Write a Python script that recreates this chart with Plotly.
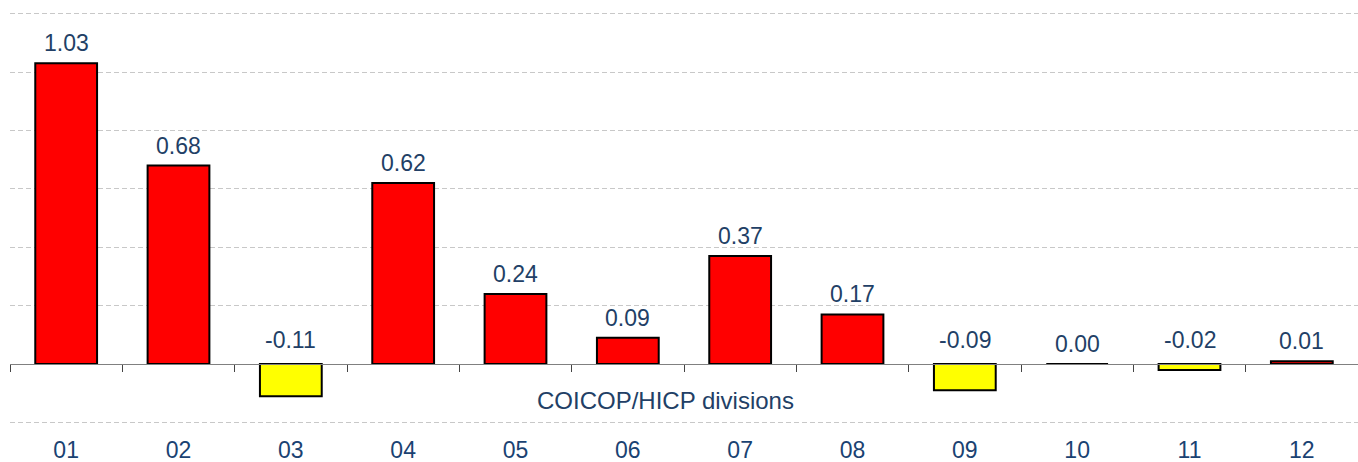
import plotly.graph_objects as go

categories = ["01", "02", "03", "04", "05", "06", "07", "08", "09", "10", "11", "12"]
values = [1.03, 0.68, -0.11, 0.62, 0.24, 0.09, 0.37, 0.17, -0.09, 0.00, -0.02, 0.01]
axis_title = "COICOP/HICP divisions"

POS_COLOR = "#FF0000"
NEG_COLOR = "#FFFF00"
TEXT_COLOR = "#223F66"
TICK_COLOR = "#1A4272"
FONT = "Liberation Sans, Arial, sans-serif"

y_min, y_max = -0.26, 1.24
zero_frac = (0 - y_min) / (y_max - y_min)

colors = [POS_COLOR if v >= 0 else NEG_COLOR for v in values]

fig = go.Figure()
fig.add_trace(go.Bar(
    x=categories,
    y=values,
    width=0.55,
    marker=dict(color=colors, line=dict(color="#000000", width=2)),
    hoverinfo="skip",
))

annotations = []
for i, v in enumerate(values):
    annotations.append(dict(
        x=i, y=max(v, 0), xref="x", yref="y",
        text=f"{v:.2f}", showarrow=False,
        yanchor="middle", yshift=20 if v >= 0 else 24,
        font=dict(family=FONT, size=23, color=TEXT_COLOR),
    ))
annotations.append(dict(
    x=0.4866, xref="paper", y=-0.123, yref="y",
    text=axis_title, showarrow=False, yanchor="middle", xanchor="center",
    font=dict(family=FONT, size=24, color=TEXT_COLOR),
))

fig.update_layout(
    width=1358, height=462,
    margin=dict(l=10, r=0, t=2, b=22),
    paper_bgcolor="white", plot_bgcolor="white",
    showlegend=False,
    annotations=annotations,
    xaxis=dict(
        type="category",
        range=[-0.5, len(categories) - 0.5],
        anchor="free", position=zero_frac,
        showline=True, linecolor="#808080", linewidth=1,
        ticks="outside", tickson="boundaries", ticklen=7, tickcolor="#444444", tickwidth=1,
        showgrid=False,
        tickfont=dict(family=FONT, size=23, color=TICK_COLOR),
        ticklabelstandoff=65,
        automargin=False,
    ),
    yaxis=dict(
        range=[y_min, y_max],
        tick0=0, dtick=0.2,
        showticklabels=False,
        showgrid=True, gridcolor="#C8C8C8", gridwidth=1, griddash="5px,3px",
        zeroline=False,
        showline=False,
        automargin=False,
    ),
)

fig.write_html(
    "out.html",
    config={"displayModeBar": False},
    post_script="document.body.style.margin='0';document.body.style.overflow='hidden';",
)
